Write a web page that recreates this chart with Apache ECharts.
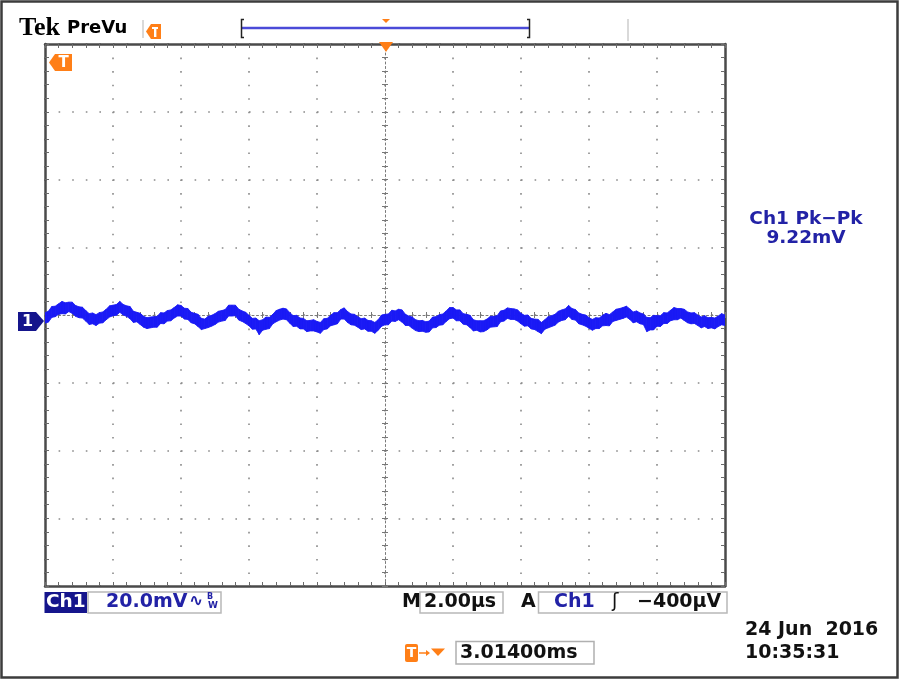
<!DOCTYPE html>
<html><head><meta charset="utf-8">
<script src="https://cdn.jsdelivr.net/npm/echarts@6/dist/echarts.min.js"></script>
<style>html,body{margin:0;padding:0;background:#fff}#c{width:900px;height:680px}</style>
</head><body><div id="c"></div>
<script>
// ---- data (peak-detect envelope of the noisy trace) ----
const timeStartUs = -10;          // left edge of screen, µs (2.00 µs/div, 10 div)
const timeStepUs = 0.1;           // column spacing, µs
const ch1MaxMv = [
0.7, 1.1, 2.5, 2.6, 3.3, 4.0, 3.6, 3.8, 3.8, 2.8,
2.4, 2.3, 1.3, 0.4, 0.6, 0.1, 0.7, 0.9, 1.7, 2.7,
2.9, 3.1, 4.0, 3.1, 2.7, 2.5, 1.1, 0.8, 0.5, -0.4,
-0.8, -0.6, -0.5, -0.4, 0.7, 0.6, 1.3, 1.5, 2.2, 3.0,
2.8, 2.0, 1.9, 0.8, 0.5, 0.2, -1.0, -1.2, -0.4, -0.1,
0.4, 1.1, 1.3, 1.6, 2.9, 2.9, 2.9, 1.7, 1.2, 0.8,
-0.1, -1.0, -0.9, -1.7, -1.4, -0.6, -0.7, 0.2, 1.3, 1.7,
2.0, 1.8, 0.7, -0.2, -0.1, -0.9, -1.0, -1.7, -1.6, -1.4,
-1.9, -2.2, -1.1, -1.0, -0.1, 0.7, 0.7, 1.6, 2.1, 1.0,
0.3, 0.2, -0.5, -1.1, -0.9, -1.6, -1.7, -2.2, -1.4, 0.0,
0.2, 0.3, 1.4, 1.2, 1.7, 1.5, 0.2, -0.3, -0.6, -1.4,
-1.7, -1.6, -2.0, -1.8, -0.6, -0.5, 0.1, 0.3, 1.2, 2.2,
2.2, 1.5, 1.5, 0.4, 0.2, -0.1, -1.4, -1.7, -1.7, -1.7,
-1.2, -0.4, -0.4, -0.2, 1.2, 1.4, 2.1, 1.9, 1.8, 1.5,
0.5, -0.1, 0.0, -1.0, -1.2, -1.3, -2.2, -1.4, -0.5, -0.2,
0.2, 1.1, 1.5, 1.8, 2.8, 1.9, 1.6, 0.6, 0.2, 0.0,
-0.8, -1.3, -0.8, -0.9, -0.1, 0.5, 0.1, 0.9, 1.7, 1.9,
2.2, 2.6, 1.8, 0.9, 1.2, 0.6, 0.3, -0.7, -0.8, -0.1,
-0.2, -0.2, 0.7, 0.6, 1.4, 2.2, 1.9, 1.9, 1.7, 0.9,
0.6, 0.7, 0.0, -0.6, -0.2, -0.8, -0.7, -0.9, -0.3, 0.4, 0.0
];
const ch1MinMv = [
-2.4, -2.1, -0.7, -0.5, 0.2, 0.4, 0.3, 1.0, 0.5, -0.4,
-0.8, -0.9, -1.8, -2.8, -2.6, -3.1, -2.4, -2.3, -1.4, -0.6,
-0.2, -0.1, 0.8, 0.0, -0.4, -1.1, -2.2, -2.0, -2.8, -3.6,
-4.0, -3.8, -3.6, -3.6, -2.5, -2.6, -1.8, -1.7, -0.9, -0.3,
-0.3, -1.2, -1.3, -2.3, -2.6, -3.4, -4.3, -4.0, -3.7, -3.3,
-2.8, -2.1, -1.8, -1.6, -0.3, -0.3, -0.2, -1.5, -1.9, -2.5,
-3.2, -4.2, -4.1, -5.8, -4.5, -4.2, -4.0, -2.6, -2.0, -1.5,
-1.2, -1.4, -2.4, -3.4, -3.3, -4.1, -4.1, -4.9, -4.7, -4.7,
-5.0, -5.4, -4.3, -4.1, -3.2, -2.9, -2.6, -1.2, -1.2, -2.2,
-2.9, -3.0, -3.6, -4.3, -4.1, -4.8, -4.8, -5.4, -4.5, -3.3,
-2.9, -2.9, -1.8, -1.9, -1.4, -2.1, -3.1, -3.1, -3.9, -4.6,
-4.9, -4.8, -5.1, -5.0, -3.8, -3.7, -3.0, -2.9, -1.9, -1.1,
-0.9, -1.7, -1.7, -2.7, -2.9, -3.7, -4.7, -4.5, -5.0, -4.9,
-4.4, -3.6, -3.5, -3.4, -2.0, -1.8, -1.0, -1.3, -1.3, -1.8,
-2.6, -3.3, -3.2, -4.1, -4.3, -4.9, -5.5, -4.2, -3.8, -3.4,
-3.0, -2.1, -1.6, -1.4, -0.4, -1.3, -1.5, -2.6, -2.9, -3.3,
-3.9, -4.5, -4.0, -4.0, -3.2, -3.1, -3.2, -1.9, -1.6, -1.3,
-1.0, -0.6, -1.3, -2.3, -2.0, -2.6, -2.8, -4.9, -4.4, -4.4,
-3.3, -3.4, -2.5, -2.5, -1.7, -1.4, -1.4, -0.9, -1.6, -2.3,
-2.6, -2.5, -3.1, -3.8, -3.4, -4.0, -3.8, -4.1, -3.4, -2.9, -3.1
];
const xRangeUs = [-10, 10];  const xDivUs = 2;
const yRangeMv = [-80, 80];  const yDivMv = 20;
const measLabel = 'Ch1 Pk\u2212Pk';
const measValue = '9.22mV';
const vScaleText = '20.0mV';
const hScaleText = '2.00\u00b5s';
const trigLevelText = '\u2212400\u00b5V';
const trigPosText = '3.01400ms';
const dateText = '24 Jun  2016';
const timeText = '10:35:31';

// ---- build ----
const tOf = i => +(timeStartUs + i * timeStepUs).toFixed(2);
// one segment per pair of neighbouring columns: [t0, min0, max0, t1, min1, max1]
const bandSegments = ch1MaxMv.slice(0, -1).map((v, i) =>
  [tOf(i), ch1MinMv[i], v, tOf(i + 1), ch1MinMv[i + 1], ch1MaxMv[i + 1]]);
const FONT = '"DejaVu Sans", Verdana, sans-serif';
const ORANGE = '#ff7f17';
const NAVY = '#15158c';
const TXTBLUE = '#2222a6';
const TRACE = '#1a1af5';
const BORDER = '#4a4a4a';
const TICK = '#6a6a6a';

function baseAxis(range, div) {
  return { type: 'value', min: range[0], max: range[1], interval: div,
           axisLabel: { show: false }, splitLine: { show: false } };
}
function borderAxis(range, div, pos, grid) {
  return Object.assign(baseAxis(range, div), {
    position: pos,
    axisLine: { show: true, onZero: false, lineStyle: { color: BORDER, width: 2.5 } },
    axisTick: { show: true, inside: true, length: 4, lineStyle: { color: TICK, width: 1 } },
    minorTick: { show: true, splitNumber: 5, length: 4, lineStyle: { color: TICK, width: 1 } },
    splitLine: grid ? { show: true, lineStyle: grid } : { show: false }
  });
}
function centerAxis(range, div, pos, inside, showLine) {
  return Object.assign(baseAxis(range, div), {
    position: pos,
    axisLine: { show: showLine, onZero: true, onZeroAxisIndex: 0,
                lineStyle: { color: '#7a7a7a', width: 1, type: [2, 2.5] } },
    axisTick: { show: true, inside: inside, length: 3, lineStyle: { color: '#777', width: 1 } },
    minorTick: { show: true, splitNumber: 5, length: 3, lineStyle: { color: '#777', width: 1 } }
  });
}

function txt(x, y, text, size, color, extra) {
  return {
    type: 'text', x: x, y: y, z: 300,
    style: Object.assign({ text: text, fontSize: size, fontFamily: FONT, fontWeight: 'bold', fill: color,
      align: 'left', textAlign: 'left', verticalAlign: 'middle', textVerticalAlign: 'middle' }, extra || {})
  };
}
function box(x, y, w, h, stroke, fill) {
  return { type: 'rect', z: 150, shape: { x: x, y: y, width: w, height: h },
           style: { fill: fill || '#fff', stroke: stroke, lineWidth: 1.5 } };
}
function poly(points, fill, z) {
  return { type: 'polygon', z: z || 200, shape: { points: points }, style: { fill: fill } };
}
function pline(points, stroke, w, z) {
  return { type: 'polyline', z: z || 200, shape: { points: points },
           style: { stroke: stroke, lineWidth: w, fill: 'none' } };
}

const chart = echarts.init(document.getElementById('c'), null, { renderer: 'canvas' });
chart.setOption({
  animation: false,
  backgroundColor: '#ffffff',
  grid: { left: 45, top: 44, width: 680, height: 542, containLabel: false },
  xAxis: [
    borderAxis(xRangeUs, xDivUs, 'bottom', { color: '#8a8a8a', width: 1.6, type: [1.6, 11.95] }),
    borderAxis(xRangeUs, xDivUs, 'top', null),
    centerAxis(xRangeUs, xDivUs, 'bottom', false, true),
    centerAxis(xRangeUs, xDivUs, 'bottom', true, false)
  ],
  yAxis: [
    borderAxis(yRangeMv, yDivMv, 'left', { color: '#8a8a8a', width: 1.6, type: [1.6, 12.0] }),
    borderAxis(yRangeMv, yDivMv, 'right', null),
    centerAxis(yRangeMv, yDivMv, 'left', false, true),
    centerAxis(yRangeMv, yDivMv, 'left', true, false)
  ],
  series: [{
    name: 'Ch1', type: 'custom', xAxisIndex: 0, yAxisIndex: 0, data: bandSegments,
    encode: { x: [0, 3], y: [1, 2, 4, 5] }, z: 5, clip: true,
    renderItem: function (params, api) {
      const a = api.coord([api.value(0), api.value(2)]);
      const b = api.coord([api.value(3), api.value(5)]);
      const c = api.coord([api.value(3), api.value(4)]);
      const d = api.coord([api.value(0), api.value(1)]);
      return { type: 'polygon', shape: { points: [a, b, c, d] },
               style: { fill: TRACE, stroke: TRACE, lineWidth: 0.9 } };
    }
  }],
  graphic: { elements: [
    // outer frame
    { type: 'rect', z: 300, shape: { x: 1.5, y: 1.5, width: 896, height: 676 },
      style: { fill: 'none', stroke: '#3c3c3c', lineWidth: 2.5 } },
    // header
    txt(19, 28.5, 'Tek', 26, '#000', { fontFamily: '"Liberation Serif", serif' }),
    txt(67, 28, 'PreVu', 18, '#000'),
    pline([[143, 20], [143, 38]], '#cccccc', 1.5),
    poly([[146, 31.5], [151, 24], [161, 24], [161, 39], [151, 39]], ORANGE),
    { type: 'rect', z: 210, shape: { x: 152, y: 27, width: 6, height: 2 }, style: { fill: '#fff' } },
    { type: 'rect', z: 210, shape: { x: 154, y: 27, width: 2.4, height: 10 }, style: { fill: '#fff' } },
    { type: 'rect', z: 190, shape: { x: 242, y: 26.5, width: 287, height: 3 }, style: { fill: '#a8a8ec' } },
    pline([[242, 28], [529, 28]], '#2c2cd2', 1.3),
    pline([[244, 19.5], [241.5, 19.5], [241.5, 37.5], [244, 37.5]], '#222', 1.5),
    pline([[527, 19.5], [529.5, 19.5], [529.5, 37.5], [527, 37.5]], '#222', 1.5),
    poly([[382, 19], [390, 19], [386, 23]], ORANGE),
    pline([[628, 19], [628, 41]], '#cccccc', 1.5),
    // trigger position on graticule
    poly([[379, 42], [393, 42], [386, 52]], ORANGE, 260),
    // in-plot T marker
    poly([[49, 62.5], [55, 54], [72, 54], [72, 71], [55, 71]], ORANGE, 260),
    txt(63.5, 63, 'T', 15, '#fff', { align: 'center', textAlign: 'center' }),
    // channel 1 ground marker
    poly([[18, 312], [36, 312], [44, 321], [36, 331], [18, 331]], NAVY, 260),
    txt(27.5, 322, '1', 16, '#fff', { align: 'center', textAlign: 'center' }),
    // measurement readout
    txt(806, 219.5, measLabel, 18.5, TXTBLUE, { align: 'center', textAlign: 'center' }),
    txt(806, 238, measValue, 18.5, TXTBLUE, { align: 'center', textAlign: 'center' }),
    // bottom status bar
    { type: 'rect', z: 150, shape: { x: 44.5, y: 592, width: 42.5, height: 21 }, style: { fill: NAVY } },
    txt(46, 602.5, 'Ch1', 18.5, '#fff'),
    box(88, 592, 133, 21, '#b8b8b8'),
    txt(106, 602.5, vScaleText, 19, TXTBLUE),
    txt(189, 602, '\u223f', 17, TXTBLUE),
    txt(207, 597, 'B', 8, TXTBLUE),
    txt(208, 606, 'W', 9, TXTBLUE),
    txt(402, 602.5, 'M', 19, '#111'),
    box(420, 592, 83, 21, '#b8b8b8'),
    txt(424, 602.5, hScaleText, 19, '#111'),
    txt(521, 602.5, 'A', 19, '#111'),
    box(538.5, 592, 188.5, 21, '#b8b8b8'),
    txt(554, 602.5, 'Ch1', 19, TXTBLUE),
    txt(612, 602.5, '\u0283', 19, '#111', { fontWeight: 'normal' }),
    txt(637, 602.5, trigLevelText, 19, '#111'),
    // trigger position readout
    { type: 'rect', z: 200, shape: { x: 405, y: 644, width: 13, height: 18, r: 2 }, style: { fill: ORANGE } },
    txt(411.5, 653, 'T', 14, '#fff', { align: 'center', textAlign: 'center' }),
    pline([[419, 653], [428, 653]], ORANGE, 1.5),
    poly([[426, 650], [430, 653], [426, 656]], ORANGE),
    poly([[431, 648.5], [445, 648.5], [438, 656]], ORANGE),
    box(456, 641.5, 138, 22.5, '#b0b0b0'),
    txt(460, 653, trigPosText, 19, '#111'),
    // date / time
    txt(745, 630.5, dateText, 19, '#111'),
    txt(745, 653, timeText, 19, '#111')
  ] }
});
</script></body></html>
